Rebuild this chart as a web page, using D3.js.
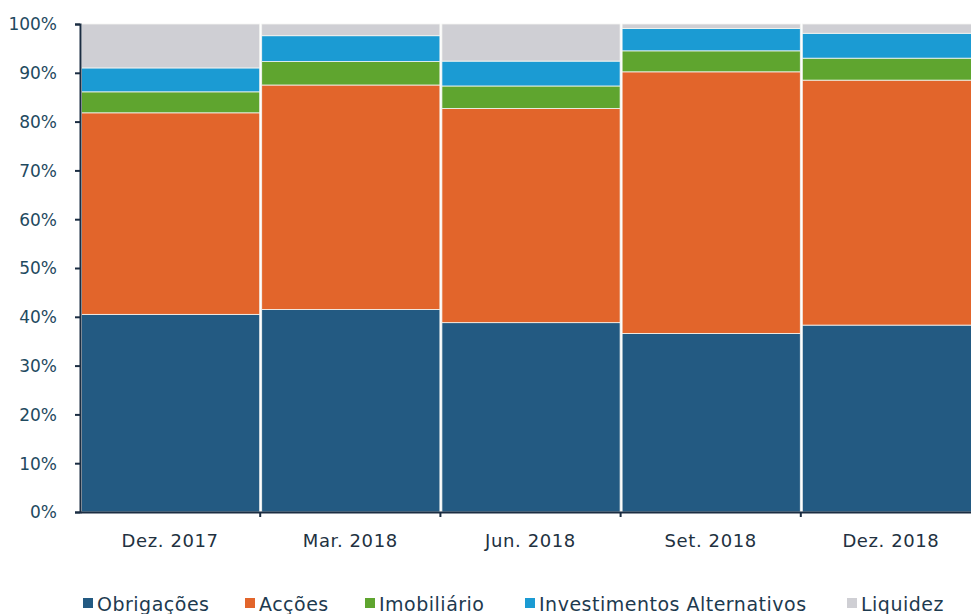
<!DOCTYPE html>
<html><head><meta charset="utf-8">
<script src="https://cdn.jsdelivr.net/npm/d3@7"></script>
<style>
html,body{margin:0;padding:0;background:#fff;}
svg{display:block;}
text{font-family:"DejaVu Sans",sans-serif;}
</style></head>
<body><svg id="c" width="971" height="614"></svg>
<script>
const categories = ["Dez. 2017","Mar. 2018","Jun. 2018","Set. 2018","Dez. 2018"];
const seriesNames = ["Obrigações","Acções","Imobiliário","Investimentos Alternativos","Liquidez"];
const obrigacoes = [40.5, 41.5, 38.8, 36.6, 38.3];
const accoes     = [41.3, 46.0, 43.9, 53.6, 50.2];
const imobiliario= [4.3, 4.8, 4.6, 4.3, 4.5];
const investAlt  = [4.9, 5.3, 5.1, 4.6, 5.1];
const liquidez   = [9.0, 2.4, 7.6, 0.9, 1.9];
const yTicks = [0,10,20,30,40,50,60,70,80,90,100];
const colors = ["#235a82","#e2652b","#5fa52f","#1b9bd3","#cfcfd4"];

const seriesVals = [obrigacoes, accoes, imobiliario, investAlt, liquidez];
const rows = categories.map((c,i)=>{
  const r={cat:c};
  seriesNames.forEach((s,j)=>r[s]=seriesVals[j][i]);
  return r;
});

const svg = d3.select("#c");
const x = d3.scaleBand().domain(categories).range([80, 981]).padding(0);
const y = d3.scaleLinear().domain([0,100]).range([512, 24]);

const stack = d3.stack().keys(seriesNames);
const layers = stack(rows);

svg.append("g").selectAll("g").data(layers).join("g")
  .attr("fill",(d,i)=>colors[i])
  .selectAll("rect").data(d=>d).join("rect")
  .attr("x",d=>x(d.data.cat)+1.5)
  .attr("width",x.bandwidth()-2)
  .attr("y",d=>y(d[1]))
  .attr("height",d=>y(d[0])-y(d[1]))
  .attr("stroke","#f4f6f2").attr("stroke-width",0.8);

// Y axis
const axColor="#1b2d42";
const yAxis = svg.append("g").attr("transform","translate(80,0)")
  .call(d3.axisLeft(y).tickValues(yTicks).tickFormat(d=>d+"%").tickSize(5).tickPadding(18));
yAxis.select(".domain").attr("stroke",axColor).attr("stroke-width",2);
yAxis.selectAll(".tick line").attr("stroke",axColor).attr("stroke-width",2);
yAxis.selectAll(".tick text").attr("fill","#1f4a5f").style("font-size","17px").attr("dy","0.35em");

// X axis
const xAxis = svg.append("g").attr("transform","translate(0,512)")
  .call(d3.axisBottom(x).tickSize(0).tickPadding(22));
xAxis.select(".domain").attr("stroke",axColor).attr("stroke-width",2);
xAxis.selectAll(".tick text").attr("fill","#22313f").style("font-size","18px").style("letter-spacing","0.6px");
// boundary ticks
const bounds = categories.map(c=>x(c)).concat([x(categories[categories.length-1])+x.bandwidth()]);
svg.append("g").selectAll("line").data(bounds.slice(1)).join("line")
  .attr("x1",d=>d).attr("x2",d=>d).attr("y1",512).attr("y2",517)
  .attr("stroke",axColor).attr("stroke-width",2);

// Legend
const legX = [83, 245, 365, 525, 847];
const lg = svg.append("g");
seriesNames.forEach((s,i)=>{
  lg.append("rect").attr("x",legX[i]).attr("y",598).attr("width",10).attr("height",10).attr("fill",colors[i]);
  lg.append("text").attr("x",legX[i]+14).attr("y",611).text(s)
    .attr("fill","#1d3a4f").style("font-size","19px").style("letter-spacing","0.5px");
});
</script></body></html>
